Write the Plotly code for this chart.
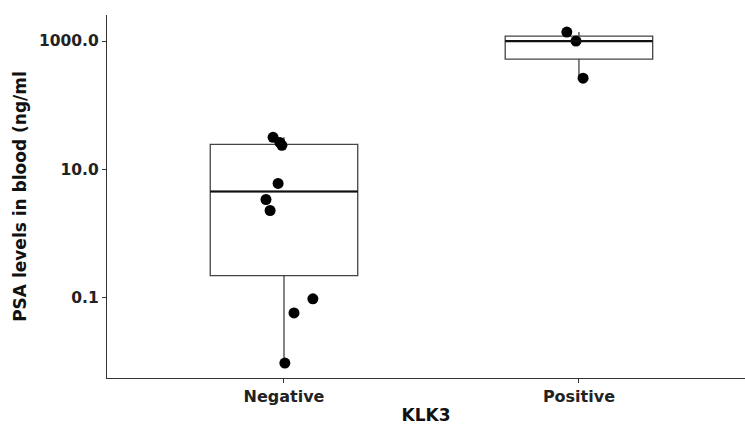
import plotly.graph_objects as go

# ---- data ----
categories = ["Negative", "Positive"]

neg_values = [31.6, 26.3, 23.7, 6.04, 3.4, 2.29, 0.0965, 0.058, 0.0096]
neg_jitter = [-0.037, -0.014, -0.007, -0.02, -0.061, -0.047, 0.098, 0.034, 0.003]
pos_values = [1383, 1000, 264]
pos_jitter = [-0.041, -0.01, 0.014]

box_lower = [0.0096, 264]
box_q1 = [0.221, 523]
box_median = [4.53, 1000]
box_q3 = [24.6, 1197]
box_upper = [31.6, 1383]

y_tickvals = [0.1, 10, 1000]
y_ticktext = ["0.1", "10.0", "1000.0"]

FONT = "DejaVu Sans"
BOX_W = 0.5

fig = go.Figure()

fig.add_trace(go.Box(
    x=[0, 1], q1=box_q1, median=box_median, q3=box_q3,
    lowerfence=box_lower, upperfence=box_upper,
    width=BOX_W, boxpoints=False, whiskerwidth=0,
    fillcolor="white", line=dict(color="#444444", width=1.3),
    showlegend=False, hoverinfo="skip",
))

# thicker median lines
for i, m in enumerate(box_median):
    fig.add_shape(type="line", x0=i - BOX_W / 2, x1=i + BOX_W / 2, y0=m, y1=m,
                  xref="x", yref="y", line=dict(color="#111111", width=2.2))

for i, (vals, jit) in enumerate([(neg_values, neg_jitter), (pos_values, pos_jitter)]):
    fig.add_trace(go.Scatter(
        x=[i + j for j in jit], y=vals, mode="markers",
        marker=dict(color="black", size=11),
        showlegend=False, hoverinfo="skip",
    ))

fig.update_layout(
    width=745, height=425,
    margin=dict(l=107, r=0, t=15, b=47),
    plot_bgcolor="white", paper_bgcolor="white",
    font=dict(family=FONT, color="#111111"),
)
fig.update_xaxes(
    range=[-0.6, 1.563], tickvals=[0, 1], ticktext=categories,
    showgrid=False, zeroline=False,
    showline=True, linecolor="#333333", linewidth=1.2,
    ticks="outside", ticklen=4, tickcolor="#333333",
    tickfont=dict(family=FONT, size=16, color="#222222", weight="bold"),
    title=dict(text="KLK3", standoff=6,
               font=dict(family=FONT, size=17, color="#111111", weight="bold")),
)
fig.update_yaxes(
    type="log", range=[-2.25, 3.406], tickvals=y_tickvals, ticktext=y_ticktext,
    showgrid=False, zeroline=False,
    showline=True, linecolor="#333333", linewidth=1.2,
    ticks="outside", ticklen=4, tickcolor="#333333",
    tickfont=dict(family=FONT, size=15.5, color="#222222", weight="bold"),
    title=dict(text="PSA levels in blood (ng/ml", standoff=8,
               font=dict(family=FONT, size=17, color="#111111", weight="bold")),
)

fig.write_html("out.html")
